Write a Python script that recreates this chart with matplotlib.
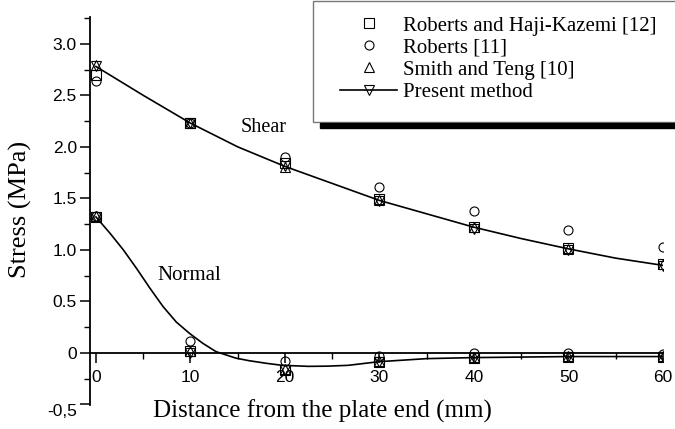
import numpy as np
import matplotlib.pyplot as plt
from matplotlib.lines import Line2D
from matplotlib.patches import Rectangle
from matplotlib.ticker import MultipleLocator, FixedLocator

serif = 'Liberation Serif'
sans = 'Liberation Sans'

# data
dist = [0, 10, 20, 30, 40, 50, 60]

shear_rhk = [2.70, 2.23, 1.84, 1.49, 1.22, 1.02, 0.86]
shear_rob = [2.64, 2.23, 1.90, 1.61, 1.38, 1.19, 1.03]
shear_st = [2.79, 2.23, 1.80, 1.48, 1.22, 1.01, 0.86]
shear_pm = [2.78, 2.23, 1.81, 1.47, 1.20, 1.00, 0.84]

normal_rhk = [1.32, 0.02, -0.17, -0.09, -0.05, -0.04, -0.04]
normal_rob = [1.33, 0.12, -0.08, -0.03, 0.00, 0.00, -0.01]
normal_st = [1.33, 0.02, -0.16, -0.08, -0.04, -0.03, -0.03]
normal_pm = [1.32, 0.00, -0.17, -0.09, -0.05, -0.04, -0.04]

# fitted curves (present method)
shear_cx = [0, 5, 10, 15, 20, 25, 30, 35, 40, 45, 50, 55, 60]
shear_cy = [2.78, 2.50, 2.23, 2.00, 1.81, 1.645, 1.48, 1.35, 1.22, 1.11, 1.01, 0.92, 0.85]
normal_cx = [0, 1.5, 2.9, 4.3, 5.7, 7.1, 8.5, 9.9, 11.3, 12.7, 14.8, 16.2, 18, 19.7,
             22.5, 24.5, 26.7, 29.9, 35, 40, 45, 50, 55, 60]
normal_cy = [1.32, 1.16, 1.00, 0.82, 0.63, 0.45, 0.30, 0.19, 0.094, 0.013, -0.05, -0.075,
             -0.10, -0.12, -0.13, -0.128, -0.12, -0.085, -0.055, -0.045, -0.04, -0.035,
             -0.035, -0.035]

labels = ['Roberts and Haji-Kazemi [12]', 'Roberts [11]', 'Smith and Teng [10]', 'Present method']

fig = plt.figure(figsize=(6.75, 4.29), dpi=100)
ax = fig.add_axes([90 / 675, 24 / 429, (663 - 90) / 675, (412 - 24) / 429])

mk = dict(ls='none', mfc='none', mec='black', mew=0.8, ms=6.5)
for ys in [shear_rhk, normal_rhk]:
    ax.plot(dist, ys, marker='s', **mk)
for ys in [shear_rob, normal_rob]:
    ax.plot(dist, ys, marker='o', **mk)
for ys in [shear_st, normal_st]:
    ax.plot(dist, ys, marker='^', **mk)
for ys in [shear_pm, normal_pm]:
    ax.plot(dist, ys, marker='v', **mk)

ax.plot(shear_cx, shear_cy, color='black', lw=1.2)
ax.plot(normal_cx, normal_cy, color='black', lw=1.2)

ax.set_xlim(-0.63, 60)
ax.set_ylim(-0.505, 3.26)

ax.spines['top'].set_visible(False)
ax.spines['right'].set_visible(False)
ax.spines['bottom'].set_position(('data', 0))
ax.spines['left'].set_linewidth(1.3)
ax.spines['bottom'].set_linewidth(1.3)

ax.xaxis.set_major_locator(FixedLocator(dist))
ax.xaxis.set_minor_locator(MultipleLocator(5))
ax.yaxis.set_major_locator(FixedLocator([-0.5, 0, 0.5, 1.0, 1.5, 2.0, 2.5, 3.0]))
ax.yaxis.set_minor_locator(MultipleLocator(0.25))
ax.set_yticklabels(['-0,5', '0', '0.5', '1.0', '1.5', '2.0', '2.5', '3.0'])
ax.tick_params(which='major', length=7, width=1.1, labelsize=12.5, pad=2.5)
ax.tick_params(which='minor', length=4, width=1.0)
ax.tick_params(axis='x', which='major', pad=5)
for t in ax.get_xticklabels() + ax.get_yticklabels():
    t.set_fontfamily(sans)
ax.get_yticklabels()[0].set_va('top')

ax.set_ylabel('Stress (MPa)', fontfamily=serif, fontsize=19)
ax.yaxis.set_label_coords(-0.101, 0.505)
ax.set_xlabel('Distance from the plate end (mm)', fontfamily=serif, fontsize=18)
ax.xaxis.set_label_coords(0.405, 0.014)

ax.text(15.3, 2.19, 'Shear', fontfamily=serif, fontsize=14.5, va='center')
ax.text(6.5, 0.75, 'Normal', fontfamily=serif, fontsize=15, va='center')

# legend frame and its shadow
fig.patches.append(Rectangle((313 / 675, 1 - 122 / 429), 1.0, 121 / 429,
                             transform=fig.transFigure, facecolor='white',
                             edgecolor='#777777', lw=1.0, zorder=3))
fig.patches.append(Rectangle((320 / 675, 1 - 128 / 429), 1.0, 5.5 / 429,
                             transform=fig.transFigure, color='black', zorder=3))

handles = [
    Line2D([], [], marker='s', **mk),
    Line2D([], [], marker='o', **mk),
    Line2D([], [], marker='^', **mk),
    Line2D([], [], marker='v', color='black', lw=1.2, mfc='none', mec='black', mew=0.8, ms=6.5),
]
leg = fig.legend(handles, labels, loc='upper left',
                 bbox_to_anchor=(340 / 675, 1 - 16 / 429),
                 borderaxespad=0, borderpad=0, frameon=False,
                 handlelength=2.74, handletextpad=0.29, labelspacing=0.12,
                 prop={'family': serif, 'size': 15}, numpoints=1)
leg.set_zorder(5)

fig.savefig('out.png', dpi=100)
